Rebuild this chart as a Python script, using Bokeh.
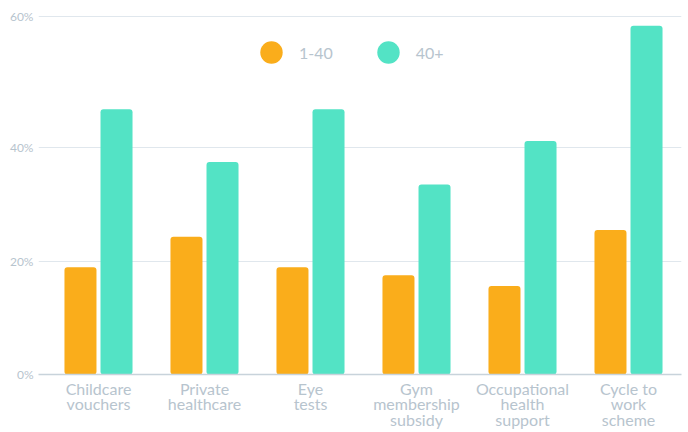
from bokeh.plotting import figure
from bokeh.models import Range1d, FixedTicker, Legend, LegendItem, ColumnDataSource
from bokeh.embed import file_html
from bokeh.resources import INLINE

categories = ["Childcare\nvouchers", "Private\nhealthcare", "Eye\ntests",
              "Gym\nmembership\nsubsidy", "Occupational\nhealth\nsupport",
              "Cycle to\nwork\nscheme"]
series_names = ["1-40", "40+"]
young = [18.9, 24.3, 18.9, 17.5, 15.6, 25.5]
older = [46.8, 37.5, 46.8, 33.5, 41.2, 61.5]
y_ticks = [0, 20, 40, 63.15]
y_tick_labels = ["0%", "20%", "40%", "60%"]

ORANGE = "#FAAD1B"
TEAL = "#53E3C5"
TEXT = "#B7C4CE"
FONT = "Lato"

idx = list(range(len(categories)))
src = ColumnDataSource(dict(
    x1=[i - 0.17 for i in idx], x2=[i + 0.17 for i in idx],
    young=young, older=older))

p = figure(width=688, height=432, output_backend="svg", toolbar_location=None,
           x_range=Range1d(-0.566, 5.5), y_range=Range1d(0, 63.32),
           min_border_left=38, min_border_right=7, min_border_top=15,
           min_border_bottom=40)
p.outline_line_color = None
p.background_fill_color = "white"
p.border_fill_color = "white"

r1 = p.vbar(x="x1", top="young", bottom=0, width=0.302, source=src,
            fill_color=ORANGE, line_color=None, border_radius=3)
r2 = p.vbar(x="x2", top="older", bottom=0, width=0.302, source=src,
            fill_color=TEAL, line_color=None, border_radius=3)

# off-screen circle renderers used only for round legend markers
d1 = p.scatter(x=[-100], y=[-100], marker="circle", size=10, fill_color=ORANGE, line_color=None)
d2 = p.scatter(x=[-100], y=[-100], marker="circle", size=10, fill_color=TEAL, line_color=None)

# axes
p.xaxis.ticker = FixedTicker(ticks=idx)
p.xaxis.major_label_overrides = {i: c for i, c in zip(idx, categories)}
p.xaxis.major_tick_line_color = None
p.xaxis.minor_tick_line_color = None
p.xaxis.major_tick_out = 0
p.xaxis.minor_tick_out = 0
p.xaxis.axis_line_color = "#C8D3DB"
p.xaxis.axis_line_width = 1.5
p.xaxis.major_label_text_color = TEXT
p.xaxis.major_label_text_font = FONT
p.xaxis.major_label_text_font_size = "16px"
p.xaxis.major_label_text_line_height = 0.84
p.xaxis.major_label_standoff = 4

p.yaxis.ticker = FixedTicker(ticks=y_ticks)
p.yaxis.major_label_overrides = {t: l for t, l in zip(y_ticks, y_tick_labels)}
p.yaxis.axis_line_color = None
p.yaxis.major_tick_line_color = None
p.yaxis.minor_tick_line_color = None
p.yaxis.major_tick_out = 0
p.yaxis.minor_tick_out = 0
p.yaxis.major_label_text_color = TEXT
p.yaxis.major_label_text_font = FONT
p.yaxis.major_label_text_font_size = "12px"
p.yaxis.major_label_standoff = 5

p.xgrid.grid_line_color = None
p.ygrid.ticker = FixedTicker(ticks=y_ticks)
p.ygrid.grid_line_color = "#E0E7ED"
p.ygrid.grid_line_width = 1.2

legend = Legend(items=[LegendItem(label=series_names[0], renderers=[d1]),
                       LegendItem(label=series_names[1], renderers=[d2])],
                orientation="horizontal", location=(205, 294),
                glyph_width=56, glyph_height=56, label_standoff=0,
                spacing=27, padding=0, margin=0,
                border_line_color=None, background_fill_alpha=0,
                label_text_color=TEXT, label_text_font=FONT,
                label_text_font_size="16px")
p.add_layout(legend, "center")

open("out.html", "w").write(file_html(p, INLINE))
